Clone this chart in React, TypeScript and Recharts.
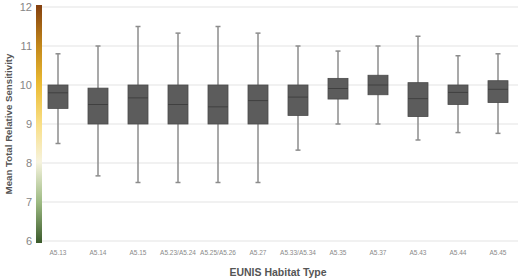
import React from "react";
import { ComposedChart, Bar, XAxis, YAxis, CartesianGrid, ReferenceArea, Label } from "recharts";

const categories = ["A5.13", "A5.14", "A5.15", "A5.23/A5.24", "A5.25/A5.26", "A5.27", "A5.33/A5.34", "A5.35", "A5.37", "A5.43", "A5.44", "A5.45"];
const whiskerLow = [8.5, 7.67, 7.5, 7.5, 7.5, 7.5, 8.33, 9.0, 9.0, 8.59, 8.78, 8.76];
const quartile1 = [9.4, 9.0, 9.0, 9.0, 9.0, 9.0, 9.22, 9.64, 9.75, 9.19, 9.5, 9.55];
const medians = [9.8, 9.5, 9.67, 9.5, 9.44, 9.6, 9.69, 9.91, 10.0, 9.65, 9.81, 9.89];
const quartile3 = [10.0, 9.92, 10.0, 10.0, 10.0, 10.0, 10.0, 10.17, 10.25, 10.06, 10.0, 10.11];
const whiskerHigh = [10.8, 11.0, 11.5, 11.33, 11.5, 11.33, 11.0, 10.87, 11.0, 11.25, 10.75, 10.8];
const yTicks = [6, 7, 8, 9, 10, 11, 12];

const data = categories.map((name, i) => ({
  name,
  low: whiskerLow[i],
  q1: quartile1[i],
  median: medians[i],
  q3: quartile3[i],
  high: whiskerHigh[i],
}));

const FONT = "'Liberation Sans', Arial, Helvetica, sans-serif";

const BoxShape = (props: any) => {
  const { x, y, width, height, payload } = props;
  if (!payload) return null;
  const top = Math.min(y, y + height);
  const h = Math.abs(height);
  const span = payload.high - payload.low;
  const yOf = (v: number) => top + ((payload.high - v) * h) / span;
  const cx = x + width / 2;
  const capHalf = 2.5;
  return (
    <g>
      <line x1={cx} x2={cx} y1={yOf(payload.high)} y2={yOf(payload.low)} stroke="#8c8c8c" strokeWidth={1.5} />
      <line x1={cx - capHalf} x2={cx + capHalf} y1={yOf(payload.high)} y2={yOf(payload.high)} stroke="#8c8c8c" strokeWidth={1.5} />
      <line x1={cx - capHalf} x2={cx + capHalf} y1={yOf(payload.low)} y2={yOf(payload.low)} stroke="#8c8c8c" strokeWidth={1.5} />
      <rect x={x} y={yOf(payload.q3)} width={width} height={yOf(payload.q1) - yOf(payload.q3)} fill="#5c5c5c" stroke="#4a4a4a" strokeWidth={0.8} />
      <line x1={x} x2={x + width} y1={yOf(payload.median)} y2={yOf(payload.median)} stroke="#404040" strokeWidth={1} />
    </g>
  );
};

const GradientBar = (props: any) => {
  const { y, height, x } = props;
  return (
    <g>
      <defs>
        <linearGradient id="sensGrad" x1="0" y1="0" x2="0" y2="1">
          <stop offset="0%" stopColor="#84400f" />
          <stop offset="17%" stopColor="#c2871a" />
          <stop offset="33%" stopColor="#ebbb33" />
          <stop offset="50%" stopColor="#f9df86" />
          <stop offset="66%" stopColor="#f6f3de" />
          <stop offset="83%" stopColor="#9cba82" />
          <stop offset="100%" stopColor="#3b5a2b" />
        </linearGradient>
      </defs>
      <rect x={x - 2} y={y - 2} width={6} height={height + 4} fill="url(#sensGrad)" />
    </g>
  );
};

export default function App() {
  return (
    <div style={{ position: "absolute", left: 0, top: 0, background: "#fff" }}>
      <ComposedChart
        width={520}
        height={278}
        data={data}
        margin={{ top: 7, right: 2, left: 0, bottom: 0 }}
        barCategoryGap={10}
      >
        <CartesianGrid vertical={false} stroke="#e3e3e3" strokeWidth={1} />
        <XAxis
          dataKey="name"
          axisLine={false}
          tickLine={false}
          height={37}
          interval={0}
          tickMargin={3}
          tick={{ fontSize: 6.5, fill: "#8a8a8a", fontFamily: FONT }}
        >
          <Label
            value="EUNIS Habitat Type"
            position="insideBottom"
            offset={2}
            style={{ fontSize: 10.5, fontWeight: "bold", fill: "#555", fontFamily: FONT }}
          />
        </XAxis>
        <YAxis
          domain={[6, 12]}
          ticks={yTicks}
          axisLine={false}
          tickLine={false}
          width={38}
          tickSize={0}
          tickMargin={6}
          tick={{ fontSize: 11, fill: "#858585", fontFamily: FONT }}
        >
          <Label
            value="Mean Total Relative Sensitivity"
            angle={-90}
            position="insideLeft"
            offset={9}
            style={{ textAnchor: "middle", fontSize: 9.7, fontWeight: "bold", fill: "#555", fontFamily: FONT }}
          />
        </YAxis>
        <Bar
          dataKey={(d: any) => [d.low, d.high]}
          barSize={20}
          isAnimationActive={false}
          shape={BoxShape}
        />
        <ReferenceArea y1={6} y2={12} ifOverflow="visible" shape={GradientBar} />
      </ComposedChart>
    </div>
  );
}
